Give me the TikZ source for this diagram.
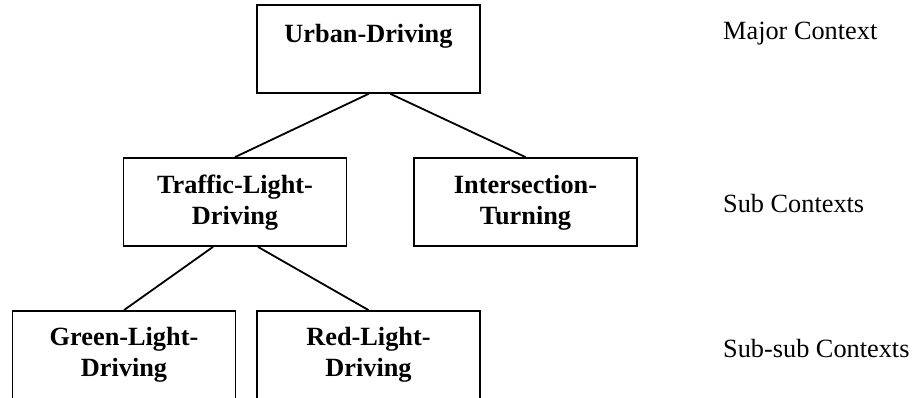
\documentclass[tikz,border=0pt]{standalone}
\usepackage{fontspec}
\setmainfont{Liberation Serif}
\begin{document}
\begin{tikzpicture}[x=1pt,y=-1pt,
  box/.style={draw=black, line width=1.8pt, rectangle, inner sep=0pt,
              minimum width=223pt, minimum height=88pt},
  boxtext/.style={font=\fontsize{26.3}{31}\selectfont\bfseries, align=center,
              anchor=base, inner sep=0pt},
  level/.style={font=\fontsize{26.3}{31}\selectfont, anchor=base west, inner sep=0pt},
  link/.style={draw=black, line width=1.8pt}]
\useasboundingbox (0,0) rectangle (914,398);

% context boxes
\node[box] (urban)   at (368.5,49)  {};
\node[box] (traffic) at (235,202)   {};
\node[box] (inter)   at (525.5,202) {};
\node[box] (green)   at (124,355)   {};
\node[box] (red)     at (368.5,355) {};

% box captions (base anchor sits on the last line)
\node[boxtext] (urbanT)   at (368.5,43)  {Urban-Driving};
\node[boxtext] (trafficT) at (235,225)   {Traffic-Light-\\Driving};
\node[boxtext] (interT)   at (525.5,225) {Intersection-\\Turning};
\node[boxtext] (greenT)   at (124,377)   {Green-Light-\\Driving};
\node[boxtext] (redT)     at (368.5,377) {Red-Light-\\Driving};

% hierarchy links
\draw[link] (urban.south) -- (traffic.north);
\draw[link] ([xshift=22pt]urban.south) -- (inter.north);
\draw[link] ([xshift=-22pt]traffic.south) -- (green.north);
\draw[link] ([xshift=23pt]traffic.south) -- (red.north);

% level names
\node[level] (major)  at (723,40)  {Major Context};
\node[level] (sub)    at (723,213) {Sub Contexts};
\node[level] (subsub) at (723,358) {Sub-sub Contexts};
\end{tikzpicture}
\end{document}
